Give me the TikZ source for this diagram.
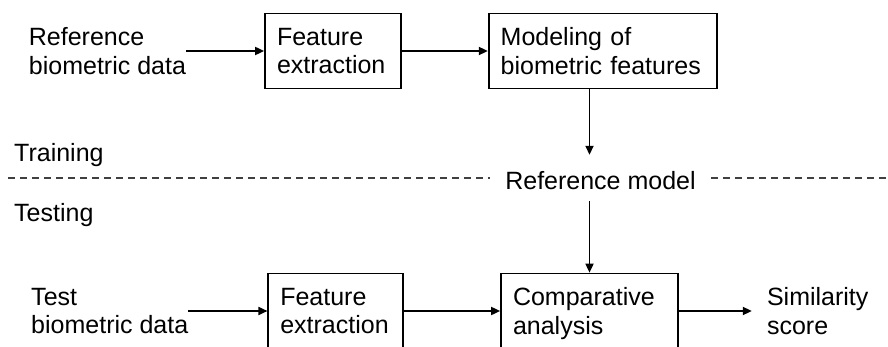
\documentclass[tikz,border=0pt]{standalone}
\usepackage{fontspec}
\setmainfont{Liberation Sans}
\usetikzlibrary{positioning,arrows.meta}

\tikzset{blk/.style={draw, rectangle, align=left, inner xsep=12pt, inner ysep=0pt,
         minimum height=75pt, line width=1.7pt},
         lbl/.style={align=left, inner sep=0pt}}
\tikzstyle{arrow} = [line width=1.7pt, -{Triangle[length=9pt,width=8pt]}]
\tikzstyle{split} = [line width=1.2pt, black!75, dash pattern=on 7pt off 5pt]

\begin{document}
\begin{tikzpicture}[x=1pt, y=-1pt,
			every node/.style={font=\fontsize{25}{28.75}\selectfont}]
		\clip (0,0) rectangle (888,347);
		% training row
		\node[blk, text width=112pt] (fe1) at (333,51) {Feature\\extraction};
		\node[lbl, left=78pt of fe1] (refdata) {Reference\\biometric data};
		\node[blk, text width=204pt, right=86pt of fe1] (model) {Modeling of\\biometric features};
		% testing row
		\node[blk, text width=153pt] (cmp) at (589.5,311) {Comparative\\\smash{analysis}};
		\node[blk, text width=111pt, left=96pt of cmp] (fe2) {Feature\\extraction};
		\node[lbl, left=79pt of fe2] (testdata) {Test\\biometric data};
		\node[lbl, right=88pt of cmp] (score) {Similarity\\score};
		% separator
		\node[anchor=base, inner xsep=15pt, inner ysep=0pt, text height=35pt,
			text depth=11pt] (refm) at (600.5,190) {Reference model};
		\node[lbl, anchor=base west] (train) at (14,162) {Training};
		\node[lbl, anchor=base west] (test) at (14,222) {Testing};
		\coordinate (lft) at (8,178);
		\coordinate (rgt) at (888,178);
		\draw[split] (lft) -- (refm.west);
		\draw[split] (refm.east) -- (rgt);

		\draw[arrow] (refdata) -- (fe1);
		\draw[arrow] (fe1) -- (model);
		\draw[arrow] (model.south -| cmp) -- (refm.north -| cmp);
		\draw[arrow] (refm.south -| cmp) -- (cmp);
		\draw[arrow] (testdata) -- (fe2);
		\draw[arrow] (fe2) -- (cmp);
		\draw[arrow, shorten >=15pt] (cmp) -- (score);
	\end{tikzpicture}
\end{document}
